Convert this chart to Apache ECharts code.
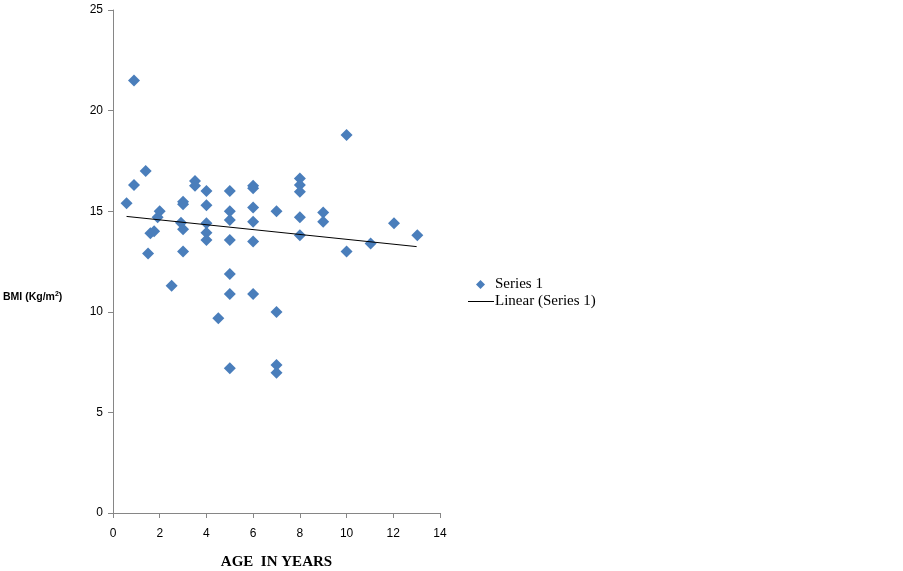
<!DOCTYPE html>
<html>
<head>
<meta charset="utf-8">
<script src="https://cdn.jsdelivr.net/npm/echarts@6/dist/echarts.min.js"></script>
<style>
  html, body { margin: 0; padding: 0; background: #fff; }
  #chart { width: 903px; height: 571px; }
</style>
</head>
<body>
<div id="chart"></div>
<script>
// age (years) and BMI readings
const ages = [0.58, 0.9, 0.9, 1.4, 1.5, 1.6, 1.76, 1.91, 2.0, 2.51,
  3.0, 3.0, 2.91, 3.0, 3.0, 3.51, 3.51, 4.0, 4.0, 4.0, 4.0, 4.0, 4.51,
  5.0, 5.0, 5.0, 5.0, 5.0, 5.0, 5.0,
  6.0, 6.0, 6.0, 6.0, 6.0, 6.0,
  7.0, 7.0, 7.0, 7.0,
  8.0, 8.0, 8.0, 8.0, 8.0,
  9.0, 9.0, 10.0, 10.0, 11.03, 12.03, 13.03]
const bmi = [15.4, 21.5, 16.3, 17.0, 12.9, 13.9, 14.0, 14.7, 15.0, 11.3,
  15.47, 15.35, 14.43, 14.1, 13.0, 16.5, 16.27, 16.0, 15.3, 14.4, 13.93, 13.57, 9.68,
  16.0, 15.0, 14.56, 13.57, 11.88, 10.88, 7.19,
  16.27, 16.14, 15.19, 14.48, 13.49, 10.88,
  15.0, 9.99, 7.36, 6.97,
  16.63, 16.3, 15.97, 14.7, 13.8,
  14.93, 14.48, 18.79, 13.0, 13.4, 14.4, 13.8]
// linear trend line end points
const trendX = [0.58, 13.0]
const trendY = [14.74, 13.24]

const xTicks = { min: 0, max: 14, interval: 2 }
const yTicks = { min: 0, max: 25, interval: 5 }

const points = ages.map((a, i) => [a, bmi[i]])
const trend = trendX.map((x, i) => [x, trendY[i]])

const chart = echarts.init(document.getElementById('chart'))
const axisGray = '#868686'
const tickFont = { color: '#000', fontSize: 12, fontFamily: 'Liberation Sans, sans-serif' }
const legendFont = { color: '#000', fontSize: 15, fontFamily: 'Liberation Serif, serif' }

chart.setOption({
  animation: false,
  backgroundColor: '#fff',
  grid: { left: 113, right: 463, top: 10, bottom: 58, outerBoundsMode: 'none' },
  legend: [
    {
      data: [{ name: 'Series 1', icon: 'diamond' }],
      left: 471, top: 272,
      itemWidth: 9, itemHeight: 9,
      textStyle: { ...legendFont, padding: [0, 0, 0, 5] }
    },
    {
      data: [{ name: 'Linear (Series 1)', icon: 'path://M0,0L26,0L26,1L0,1Z' }],
      left: 463, top: 289,
      itemWidth: 26, itemHeight: 1,
      textStyle: { ...legendFont, padding: [0, 0, 0, -4] }
    }
  ],
  graphic: [{
    type: 'text',
    left: 3, top: 291,
    style: {
      text: 'BMI (Kg/m{sup|2})',
      fill: '#000',
      font: 'bold 10.5px Liberation Sans, sans-serif',
      rich: { sup: { fontSize: 7, fontWeight: 'bold', verticalAlign: 'top', padding: [0, 0, 5, 0] } }
    }
  }],
  xAxis: {
    type: 'value',
    min: xTicks.min, max: xTicks.max, interval: xTicks.interval,
    name: 'AGE  IN YEARS',
    nameLocation: 'middle',
    nameGap: 42,
    nameTextStyle: { color: '#000', fontSize: 15, fontWeight: 'bold', fontFamily: 'Liberation Serif, serif' },
    axisLine: { lineStyle: { color: axisGray, width: 1 } },
    axisTick: { length: 5, lineStyle: { color: axisGray } },
    axisLabel: { ...tickFont, margin: 15 },
    splitLine: { show: false }
  },
  yAxis: {
    type: 'value',
    min: yTicks.min, max: yTicks.max, interval: yTicks.interval,
    axisLine: { show: true, lineStyle: { color: axisGray, width: 1 } },
    axisTick: { show: true, length: 5, lineStyle: { color: axisGray } },
    axisLabel: { ...tickFont, margin: 10 },
    splitLine: { show: false }
  },
  series: [
    {
      name: 'Series 1',
      type: 'scatter',
      data: points,
      symbol: 'diamond',
      symbolSize: 12,
      itemStyle: { color: '#4A7EBB', opacity: 1 }
    },
    {
      name: 'Linear (Series 1)',
      type: 'line',
      data: trend,
      symbol: 'none',
      lineStyle: { color: '#000', width: 1 },
      itemStyle: { color: '#000' }
    }
  ]
})
</script>
</body>
</html>
